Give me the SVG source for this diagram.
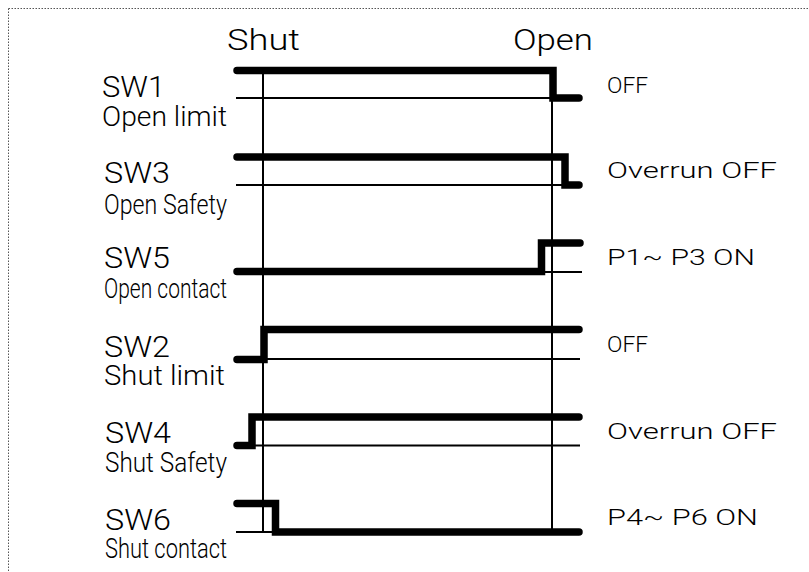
<svg xmlns="http://www.w3.org/2000/svg" width="809" height="572" viewBox="0 0 809 572">
<style>
.bg{fill:#fff}
.border{stroke:#555;stroke-width:1;stroke-dasharray:1.5 1.5;fill:none}
.thin{stroke:#000;stroke-width:2;fill:none}
.thick{stroke:#000;stroke-width:7.5;fill:none;stroke-linecap:round;stroke-linejoin:miter}
text{font-family:Roboto,"Liberation Sans","DejaVu Sans",sans-serif;font-weight:300;fill:#000}
.hdr{font-size:30px}
.sw{font-size:29px}
.sub{font-size:28px}
.st{font-size:22px}
</style>
<rect class="bg" x="0" y="0" width="809" height="572"/>
<g id="border">
<line class="border" x1="8.5" y1="8.5" x2="809" y2="8.5"/>
<line class="border" x1="8.5" y1="8.5" x2="8.5" y2="572"/>
</g>
<g id="headers">
<text class="hdr" x="227" y="50" textLength="73" lengthAdjust="spacingAndGlyphs">Shut</text>
<text class="hdr" x="513" y="50" textLength="80" lengthAdjust="spacingAndGlyphs">Open</text>
</g>
<g id="connectors">
<line class="thin" x1="263" y1="70" x2="263" y2="532"/>
<line class="thin" x1="552" y1="70" x2="552" y2="532"/>
<line class="thin" x1="236" y1="98" x2="580" y2="98"/>
<line class="thin" x1="236" y1="185" x2="580" y2="185"/>
<line class="thin" x1="236" y1="272" x2="582" y2="272"/>
<line class="thin" x1="236" y1="359" x2="580" y2="359"/>
<line class="thin" x1="236" y1="445.5" x2="580" y2="445.5"/>
<line class="thin" x1="236" y1="532" x2="276" y2="532"/>
</g>
<g id="sw1">
<text class="sw" x="102" y="97" textLength="63" lengthAdjust="spacingAndGlyphs">SW1</text>
<text class="sub" x="102" y="126" textLength="125" lengthAdjust="spacingAndGlyphs">Open limit</text>
<path class="thick" d="M237,70.5 H553 V98 H579"/>
<text class="st" x="607" y="93" textLength="41" lengthAdjust="spacingAndGlyphs">OFF</text>
</g>
<g id="sw3">
<text class="sw" x="104" y="183" textLength="66" lengthAdjust="spacingAndGlyphs">SW3</text>
<text class="sub" x="104" y="214" textLength="123" lengthAdjust="spacingAndGlyphs">Open Safety</text>
<path class="thick" d="M237,157 H565 V185 H579"/>
<text class="st" x="607" y="178" textLength="170" lengthAdjust="spacingAndGlyphs">Overrun OFF</text>
</g>
<g id="sw5">
<text class="sw" x="104" y="268" textLength="66" lengthAdjust="spacingAndGlyphs">SW5</text>
<text class="sub" x="104" y="298" textLength="123" lengthAdjust="spacingAndGlyphs">Open contact</text>
<path class="thick" d="M237,271.5 H541.5 V243 H580"/>
<text class="st" x="607" y="265" textLength="148" lengthAdjust="spacingAndGlyphs">P1~ P3  ON</text>
</g>
<g id="sw2">
<text class="sw" x="104" y="357" textLength="66" lengthAdjust="spacingAndGlyphs">SW2</text>
<text class="sub" x="104" y="385" textLength="121" lengthAdjust="spacingAndGlyphs">Shut limit</text>
<path class="thick" d="M237,359.5 H264 V329.5 H579"/>
<text class="st" x="607" y="352" textLength="41" lengthAdjust="spacingAndGlyphs">OFF</text>
</g>
<g id="sw4">
<text class="sw" x="105" y="443" textLength="66" lengthAdjust="spacingAndGlyphs">SW4</text>
<text class="sub" x="105" y="472" textLength="122" lengthAdjust="spacingAndGlyphs">Shut Safety</text>
<path class="thick" d="M237,445.5 H252 V417 H579"/>
<text class="st" x="607" y="439" textLength="170" lengthAdjust="spacingAndGlyphs">Overrun OFF</text>
</g>
<g id="sw6">
<text class="sw" x="105" y="530" textLength="66" lengthAdjust="spacingAndGlyphs">SW6</text>
<text class="sub" x="105" y="558" textLength="122" lengthAdjust="spacingAndGlyphs">Shut contact</text>
<path class="thick" d="M237,503.5 H275.5 V532 H579"/>
<text class="st" x="607" y="525" textLength="151" lengthAdjust="spacingAndGlyphs">P4~ P6  ON</text>
</g>
</svg>
